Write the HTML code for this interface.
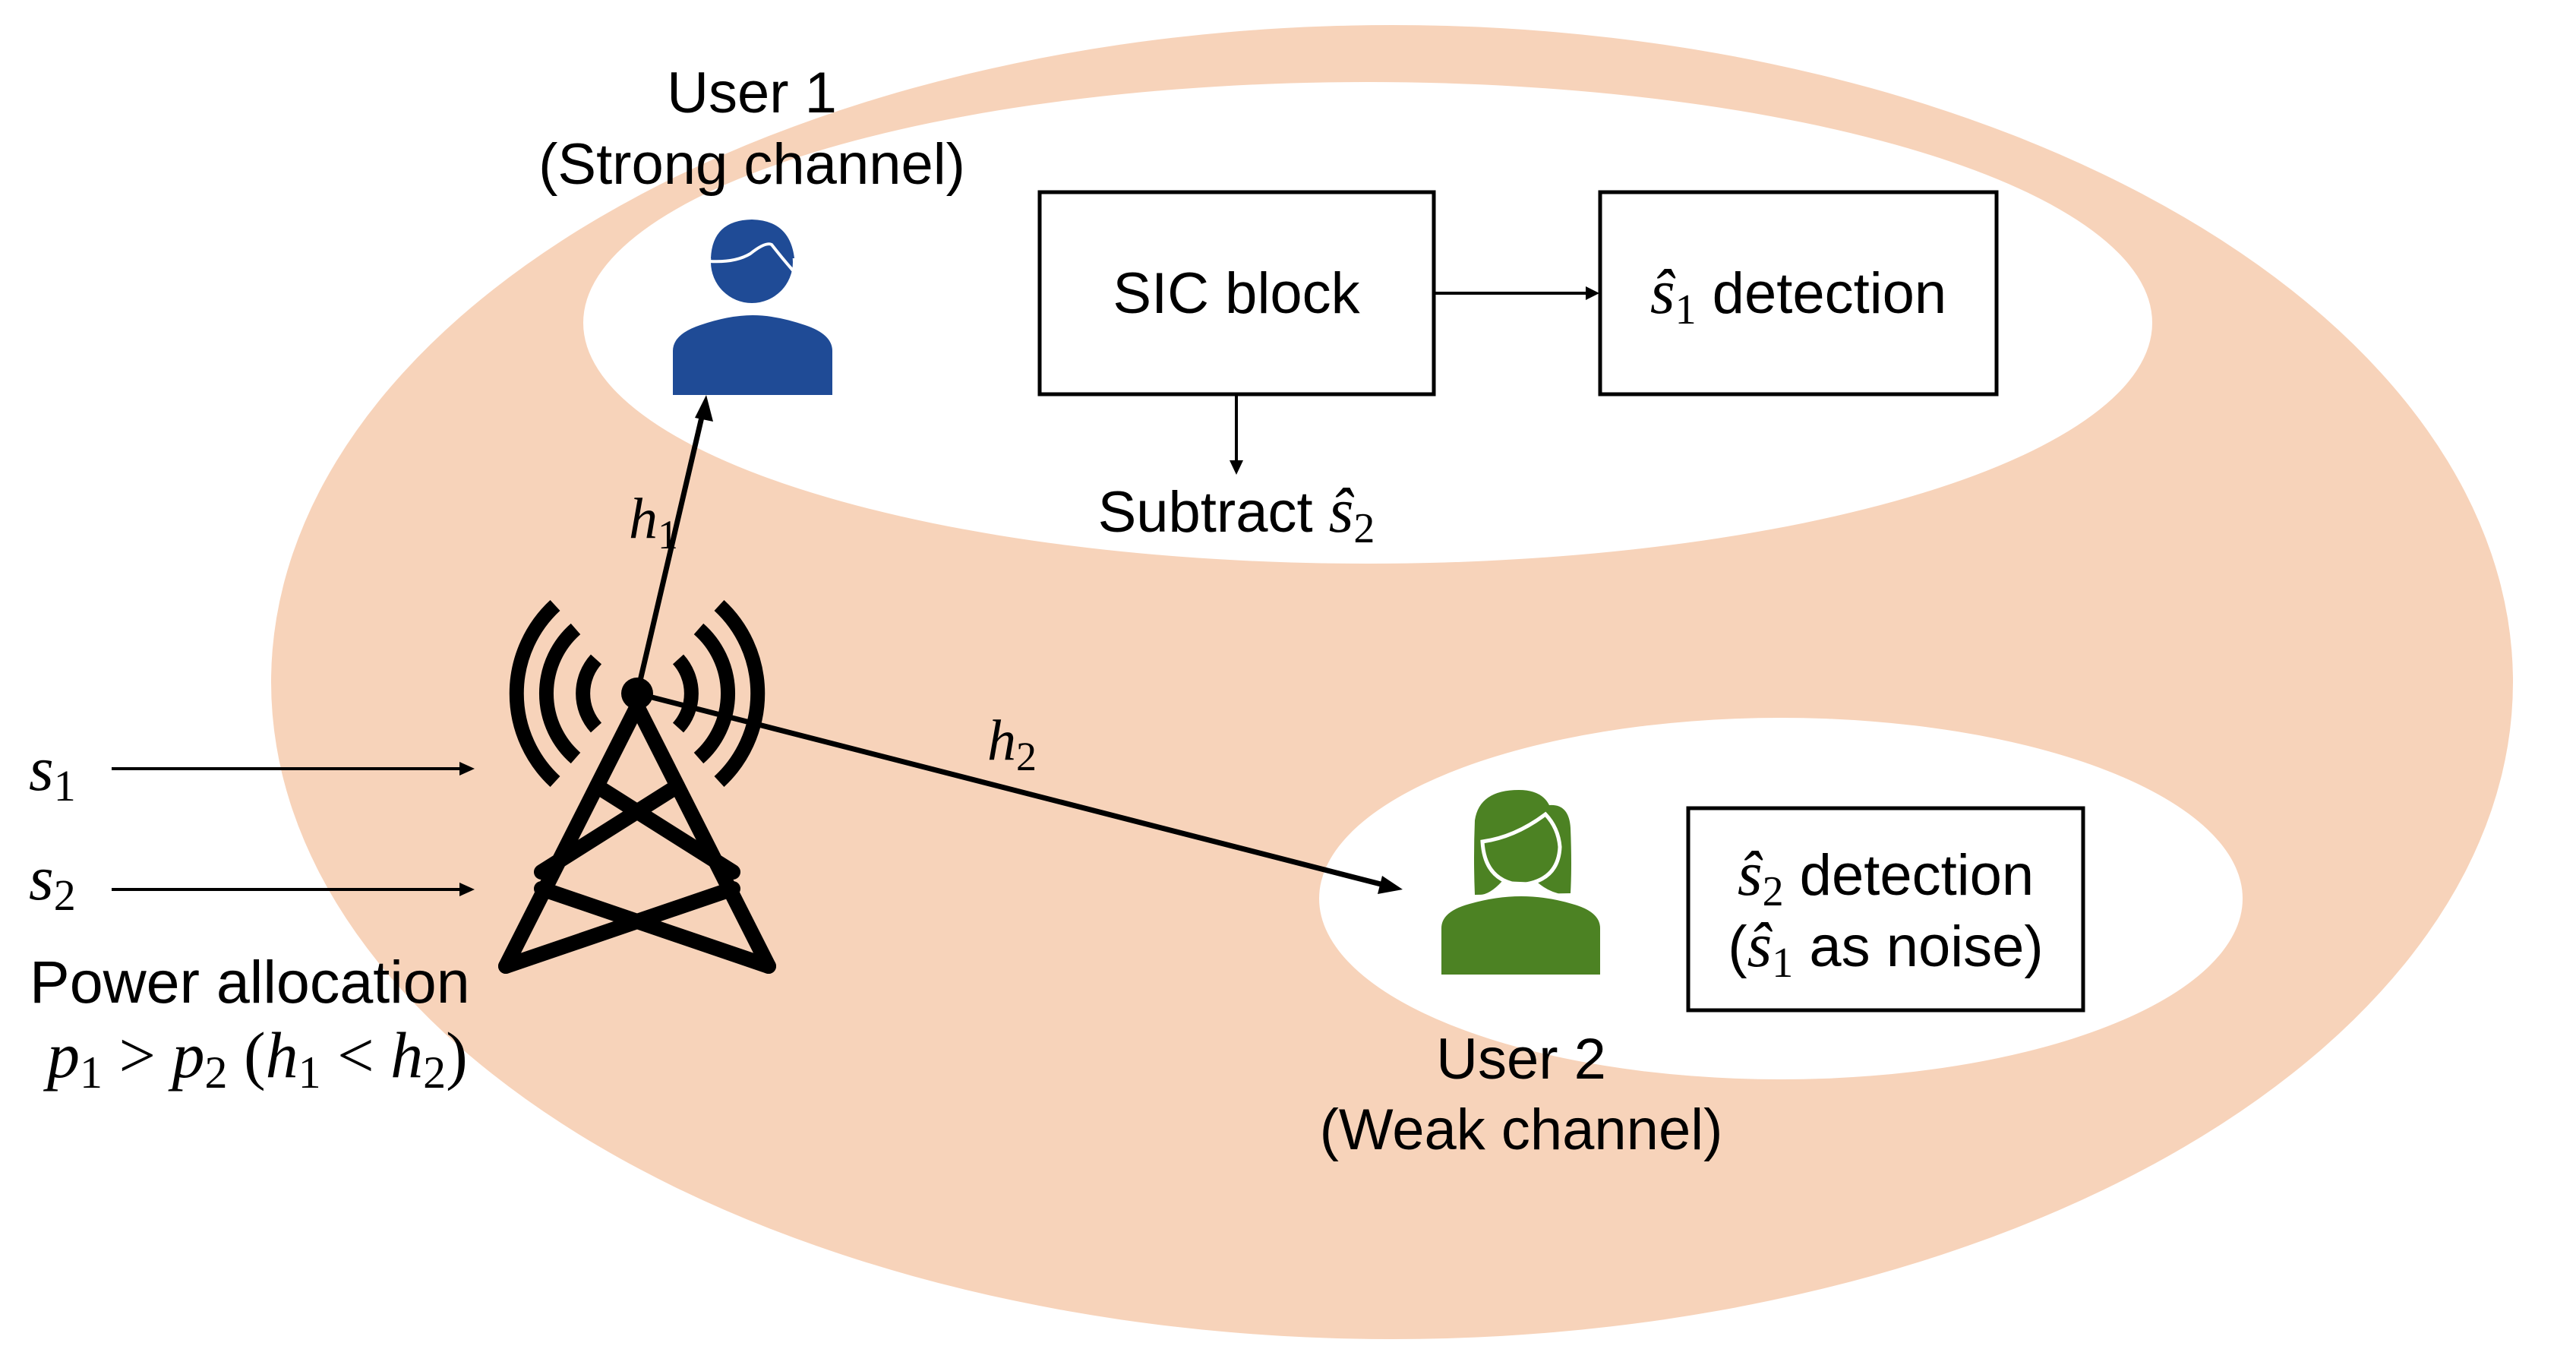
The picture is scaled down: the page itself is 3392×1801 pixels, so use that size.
<!DOCTYPE html>
<html><head><meta charset="utf-8"><style>
html,body{margin:0;padding:0;background:#fff;}
svg{display:block;}
text{font-family:"Liberation Sans",sans-serif;fill:#000;}
.m{font-family:"Liberation Serif",serif;font-style:italic;}
.n{font-family:"Liberation Serif",serif;font-style:normal;}
</style></head><body>
<svg width="3392" height="1801" viewBox="0 0 3392 1801" xmlns="http://www.w3.org/2000/svg">
<rect width="3392" height="1801" fill="#fff"/>
<ellipse cx="1833" cy="898" rx="1476" ry="865" fill="#F7D3BA"/>
<ellipse cx="1801" cy="425" rx="1033" ry="317" fill="#fff"/>
<ellipse cx="2345" cy="1183" rx="608" ry="238" fill="#fff"/>

<rect x="1369" y="253" width="519" height="266" fill="#fff" stroke="#000" stroke-width="5"/>
<rect x="2107" y="253" width="522" height="266" fill="#fff" stroke="#000" stroke-width="5"/>
<rect x="2223" y="1064" width="520" height="266" fill="#fff" stroke="#000" stroke-width="5"/>
<text x="1628" y="412" font-size="76" text-anchor="middle">SIC block</text>
<text x="2368" y="412" font-size="76" text-anchor="middle"><tspan class="m" font-size="84">ŝ</tspan><tspan class="n" font-size="56" dy="14">1</tspan><tspan dy="-14"> detection</tspan></text>
<text x="2483" y="1178" font-size="76" text-anchor="middle"><tspan class="m" font-size="84">ŝ</tspan><tspan class="n" font-size="56" dy="14">2</tspan><tspan dy="-14"> detection</tspan></text>
<text x="2483" y="1272" font-size="76" text-anchor="middle">(<tspan class="m" font-size="84">ŝ</tspan><tspan class="n" font-size="56" dy="14">1</tspan><tspan dy="-14"> as noise)</tspan></text>

<line x1="1888" y1="386" x2="2092" y2="386" stroke="#000" stroke-width="4"/>
<polygon points="2106,386 2088,377 2088,395" fill="#000"/>
<line x1="1628" y1="519" x2="1628" y2="610" stroke="#000" stroke-width="4"/>
<polygon points="1628,625 1619,606 1637,606" fill="#000"/>
<text x="1628" y="700" font-size="76" text-anchor="middle">Subtract <tspan class="m" font-size="84">ŝ</tspan><tspan class="n" font-size="56" dy="14">2</tspan></text>

<text x="990" y="148" font-size="76" text-anchor="middle">User 1</text>
<text x="990" y="242" font-size="76" text-anchor="middle">(Strong channel)</text>
<text x="2003" y="1420" font-size="76" text-anchor="middle">User 2</text>
<text x="2003" y="1513" font-size="76" text-anchor="middle">(Weak channel)</text>

<circle cx="990" cy="345" r="54" fill="#1F4B96"/>
<path d="M936,340 Q938,290 990,289 Q1040,290 1046,340 Z" fill="#1F4B96"/>
<path d="M934,344 Q968,346 988,334 Q1008,318 1016,322 Q1030,340 1044,356" fill="none" stroke="#fff" stroke-width="4"/>
<path d="M886,520 V462 Q886,440 922,428 Q960,415 991,415 Q1022,415 1060,428 Q1096,440 1096,462 V520 Z" fill="#1F4B96"/>

<path d="M1942,1178 Q1940,1130 1942,1080 Q1948,1040 2000,1040 Q2030,1040 2040,1060 Q2066,1058 2068,1090 Q2070,1140 2068,1176 Z" fill="#4C8223"/>
<path d="M1952,1108 Q1995,1102 2035,1072 Q2052,1090 2054,1115 Q2052,1160 2002,1165 Q1955,1160 1952,1108 Z" fill="none" stroke="#fff" stroke-width="5"/>
<path d="M1978,1160 Q1960,1180 1945,1178 L2060,1178 Q2040,1175 2025,1162 Z" fill="#fff"/>
<path d="M1898,1283 V1222 Q1898,1200 1935,1190 Q1970,1180 2003,1180 Q2036,1180 2070,1190 Q2107,1200 2107,1222 V1283 Z" fill="#4C8223"/>

<g stroke="#000" stroke-width="20" fill="none" stroke-linecap="round">
<path d="M839,930 L666,1272 M839,930 L1012,1272"/>
<path d="M786,1035 L965,1148 M892,1035 L713,1148 M713,1170 L1012,1272 M965,1170 L666,1272"/>
</g>
<g stroke="#000" stroke-width="19" fill="none" stroke-linecap="butt">
<path d="M785,868 A67,67 0 0 0 785,958"/>
<path d="M893,868 A67,67 0 0 1 893,958"/>
<path d="M758,828 A113,113 0 0 0 758,998"/>
<path d="M920,828 A113,113 0 0 1 920,998"/>
<path d="M731,797 A158,158 0 0 0 731,1029"/>
<path d="M947,797 A158,158 0 0 1 947,1029"/>
</g>
<circle cx="839" cy="913" r="21" fill="#000"/>

<line x1="839" y1="913" x2="925" y2="545" stroke="#000" stroke-width="7"/>
<polygon points="930,520 915,550 939,555" fill="#000"/>
<line x1="839" y1="913" x2="1822" y2="1165" stroke="#000" stroke-width="7"/>
<polygon points="1847,1171 1820,1153 1814,1177" fill="#000"/>
<text x="828" y="708" font-size="76" class="m">h<tspan class="n" font-size="54" dy="14">1</tspan></text>
<text x="1300" y="1000" font-size="76" class="m">h<tspan class="n" font-size="54" dy="14">2</tspan></text>

<line x1="147" y1="1012" x2="608" y2="1012" stroke="#000" stroke-width="4"/>
<polygon points="625,1012 605,1003 605,1021" fill="#000"/>
<line x1="147" y1="1171" x2="608" y2="1171" stroke="#000" stroke-width="4"/>
<polygon points="625,1171 605,1162 605,1180" fill="#000"/>
<text x="38" y="1040" font-size="84" class="m">s<tspan class="n" font-size="58" dy="14">1</tspan></text>
<text x="38" y="1184" font-size="84" class="m">s<tspan class="n" font-size="58" dy="14">2</tspan></text>
<text x="39" y="1320" font-size="79">Power allocation</text>
<text x="62" y="1418" font-size="86" class="m">p<tspan class="n" font-size="60" dy="14">1</tspan><tspan class="n" dy="-14"> &gt; </tspan>p<tspan class="n" font-size="60" dy="14">2</tspan><tspan class="n" dy="-14"> (</tspan>h<tspan class="n" font-size="60" dy="14">1</tspan><tspan class="n" dy="-14"> &lt; </tspan>h<tspan class="n" font-size="60" dy="14">2</tspan><tspan class="n" dy="-14">)</tspan></text>
</svg>
</body></html>
